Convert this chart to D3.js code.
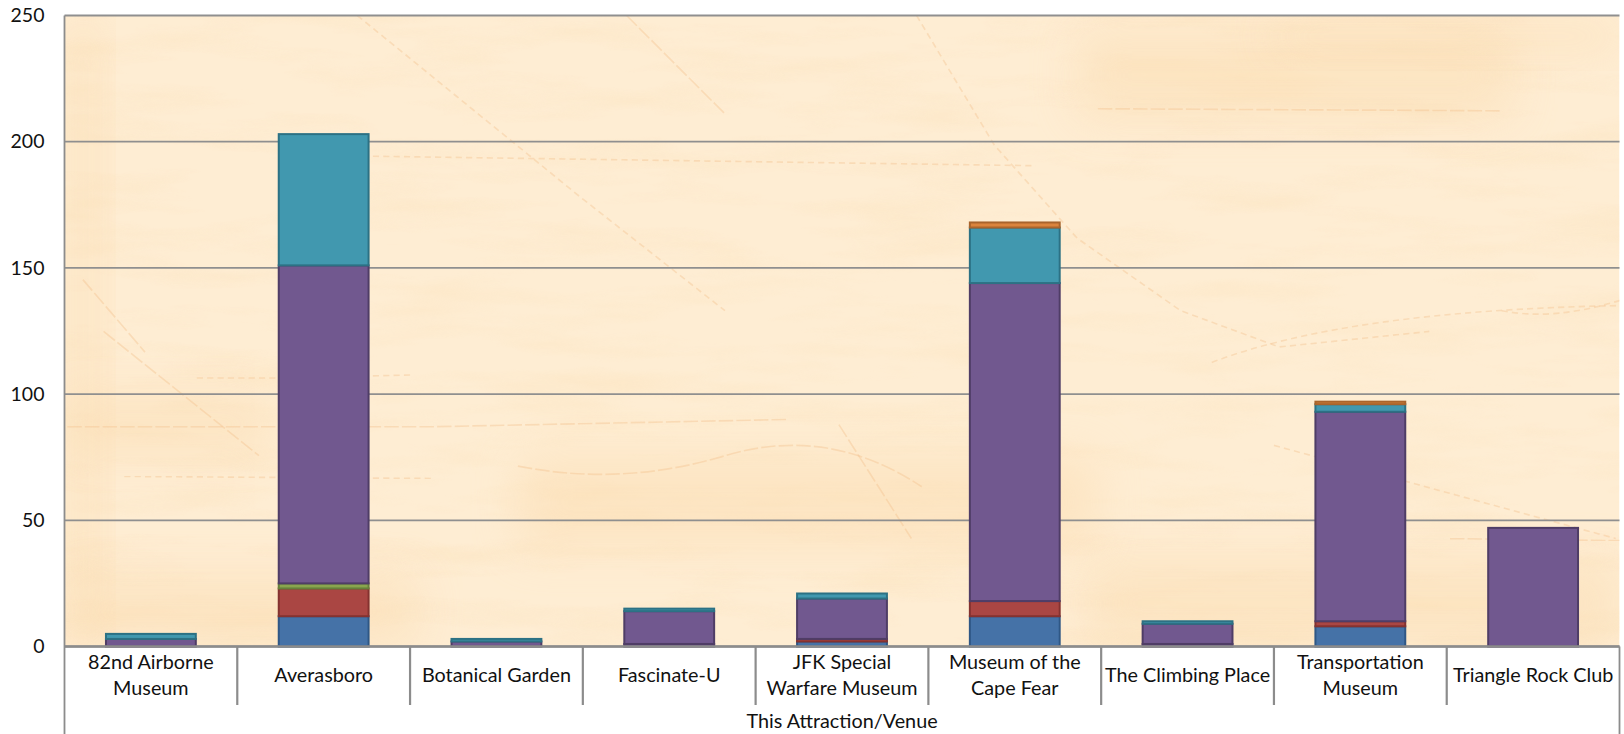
<!DOCTYPE html>
<html>
<head>
<meta charset="utf-8">
<script src="https://cdn.jsdelivr.net/npm/d3@7"></script>
<style>
  html, body { margin: 0; padding: 0; background: #fff; }
  svg { display: block; }
  text { font-family: Lato, "Open Sans", sans-serif; fill: #111; }
</style>
</head>
<body>
<script>
// data
const categories = ["82nd Airborne Museum", "Averasboro", "Botanical Garden", "Fascinate-U",
  "JFK Special Warfare Museum", "Museum of the Cape Fear", "The Climbing Place",
  "Transportation Museum", "Triangle Rock Club"];
const categoryLines = [["82nd Airborne", "Museum"], ["Averasboro"], ["Botanical Garden"], ["Fascinate-U"],
  ["JFK Special", "Warfare Museum"], ["Museum of the", "Cape Fear"], ["The Climbing Place"],
  ["Transportation", "Museum"], ["Triangle Rock Club"]];
const seriesNames = ["base", "blue", "red", "green", "purple", "teal", "orange"];
const base   = [0, 0, 0, 1, 0, 0, 1, 0, 0];
const blue   = [0, 12, 0, 0, 2, 12, 0, 8, 0];
const red    = [0, 11, 0, 0, 1, 6, 0, 2, 0];
const green  = [0, 2, 0, 0, 0, 0, 0, 0, 0];
const purple = [3, 126, 2, 13, 16, 126, 8, 83, 47];
const teal   = [2, 52, 1, 1, 2, 22, 1, 3, 0];
const orange = [0, 0, 0, 0, 0, 2, 0, 1, 0];
const yTicks = [0, 50, 100, 150, 200, 250];
const axisTitle = "This Attraction/Venue";

const fills = ["#71588f", "#4572a7", "#aa4643", "#89a54e", "#71588f", "#4198af", "#db843d"];
const strokes = ["#4f3d66", "#2f5785", "#843230", "#66803a", "#4f3d66", "#2c7184", "#a9642c"];

const width = 1624, height = 734;
const margin = { top: 15.5, right: 1619.5, bottom: 646.5, left: 64.5 };

const svg = d3.select("body").append("svg").attr("width", width).attr("height", height);
const defs = svg.append("defs");

// paper texture
const grain = defs.append("filter").attr("id", "grain").attr("x", 0).attr("y", 0).attr("width", "100%").attr("height", "100%");
grain.append("feTurbulence").attr("type", "fractalNoise").attr("baseFrequency", "0.006 0.035").attr("numOctaves", 4).attr("seed", 7);
grain.append("feColorMatrix").attr("values", "0 0 0 0 0.97  0 0 0 0 0.76  0 0 0 0 0.50  1.6 0 0 0 -0.72");
const soft = defs.append("filter").attr("id", "soft").attr("x", "-40%").attr("y", "-60%").attr("width", "180%").attr("height", "220%");
soft.append("feGaussianBlur").attr("stdDeviation", 22);
const faint = defs.append("filter").attr("id", "faint");
faint.append("feGaussianBlur").attr("stdDeviation", 0.7);
defs.append("clipPath").attr("id", "plot").append("rect")
  .attr("x", margin.left).attr("y", margin.top)
  .attr("width", margin.right - margin.left).attr("height", margin.bottom - margin.top);

const bg = svg.append("g").attr("clip-path", "url(#plot)");
bg.append("rect").attr("x", margin.left).attr("y", margin.top)
  .attr("width", margin.right - margin.left).attr("height", margin.bottom - margin.top).attr("fill", "#feedd3");
bg.append("rect").attr("x", margin.left).attr("y", margin.top)
  .attr("width", margin.right - margin.left).attr("height", margin.bottom - margin.top)
  .attr("filter", "url(#grain)").attr("opacity", 0.55);

// map decoration, sketched a little smaller then scaled up
const decor = bg.append("g").attr("transform", "scale(1.0357)");

// darker patches of the old map
const patches = [[63, 15, 35, 610], [1040, 30, 420, 85], [1050, 540, 514, 85], [63, 555, 340, 70], [500, 440, 560, 90], [1230, 20, 334, 30], [63, 380, 200, 60]];
decor.selectAll(".patch").data(patches).join("rect").attr("class", "patch")
  .attr("x", d => d[0]).attr("y", d => d[1]).attr("width", d => d[2]).attr("height", d => d[3])
  .attr("fill", "#fbd9aa").attr("opacity", 0.4).attr("filter", "url(#soft)");

// faint map lines
const mapLines = [
  "M345 15 L560 190 L700 300", "M605 15 L700 110", "M885 15 L960 140 L1040 230 L1140 300 L1235 335 L1380 320",
  "M100 320 L250 440", "M190 365 L270 365 L400 362", "M65 412 L420 412 L760 405", "M120 460 L420 462",
  "M500 450 Q600 470 700 440 T890 470", "M1170 350 Q1300 300 1564 295", "M810 410 L880 520",
  "M1230 430 L1560 520", "M1060 105 L1450 107", "M80 15 L80 625", "M93 15 L93 130", "M225 560 L225 625", "M243 560 L243 625",
  "M1450 300 Q1500 310 1564 290", "M80 270 L140 340", "M300 150 L1000 160", "M1400 520 L1564 522"
];
decor.selectAll(".map").data(mapLines).join("path").attr("class", "map")
  .attr("d", d => d).attr("fill", "none").attr("stroke", "#f3c08c").attr("stroke-width", 1.6)
  .attr("stroke-dasharray", (d, i) => i % 2 === 0 ? "6 4" : "14 3").attr("opacity", 0.38).attr("filter", "url(#faint)");

// scales
const x = d3.scaleBand().domain(categories).range([margin.left, margin.right]).paddingInner(0.48).paddingOuter(0.24);
const y = d3.scaleLinear().domain([0, 250]).range([margin.bottom, margin.top]);

// gridlines
svg.append("g").selectAll("line").data(yTicks).join("line")
  .attr("x1", margin.left).attr("x2", margin.right)
  .attr("y1", d => y(d)).attr("y2", d => y(d))
  .attr("stroke", "#8f8f8f").attr("stroke-width", 1.8);

// stacks
const rows = categories.map((c, i) => ({
  category: c, base: base[i], blue: blue[i], red: red[i], green: green[i],
  purple: purple[i], teal: teal[i], orange: orange[i]
}));
const stack = d3.stack().keys(seriesNames)(rows);

svg.append("g").selectAll("g").data(stack).join("g")
  .attr("fill", (d, i) => fills[i]).attr("stroke", (d, i) => strokes[i]).attr("stroke-width", 2)
  .selectAll("rect").data(d => d.filter(v => v[1] > v[0])).join("rect")
  .attr("x", d => x(d.data.category))
  .attr("y", d => y(d[1]))
  .attr("width", x.bandwidth())
  .attr("height", d => y(d[0]) - y(d[1]));

// y axis labels
const yAxis = svg.append("g").attr("transform", `translate(${margin.left - 20},0)`)
  .call(d3.axisLeft(y).tickValues(yTicks).tickSize(0).tickPadding(0));
yAxis.select(".domain").remove();
yAxis.selectAll("text").attr("font-size", 19.5).style("font-family", "Lato, sans-serif").attr("dy", "0.32em");

// category frame
const frame = svg.append("g").attr("stroke", "#8c8c8c").attr("fill", "none");
frame.append("line").attr("x1", margin.left).attr("x2", margin.left).attr("y1", margin.top).attr("y2", 734).attr("stroke-width", 1.8);
frame.append("line").attr("x1", margin.right).attr("x2", margin.right).attr("y1", margin.bottom).attr("y2", 734).attr("stroke-width", 1.8);
frame.append("line").attr("x1", margin.left).attr("x2", margin.right).attr("y1", margin.bottom).attr("y2", margin.bottom).attr("stroke-width", 2.4);
frame.selectAll(".sep").data(categories.slice(1)).join("line").attr("class", "sep")
  .attr("x1", d => x(d) - (x.step() - x.bandwidth()) / 2)
  .attr("x2", d => x(d) - (x.step() - x.bandwidth()) / 2)
  .attr("y1", margin.bottom).attr("y2", 705).attr("stroke-width", 2.2);

// category labels
const labels = svg.append("g").attr("text-anchor", "middle").attr("font-size", 19.8);
categories.forEach((c, i) => {
  const lines = categoryLines[i];
  const startY = lines.length === 2 ? 669 : 682;
  lines.forEach((line, j) => {
    labels.append("text")
      .attr("x", x(c) + x.bandwidth() / 2)
      .attr("y", startY + j * 26)
      .text(line);
  });
});

svg.append("text").attr("x", (margin.left + margin.right) / 2).attr("y", 728)
  .attr("text-anchor", "middle").attr("font-size", 19.8).text(axisTitle);
</script>
</body>
</html>
